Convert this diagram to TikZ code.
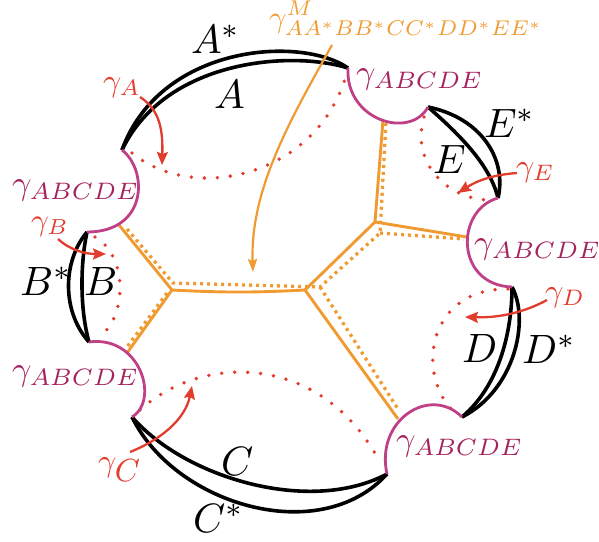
\documentclass[tikz,border=0pt]{standalone}
\usepackage{graphicx}
\usetikzlibrary{arrows.meta}
\definecolor{pline}{RGB}{192,64,136}
\definecolor{ptext}{RGB}{165,35,95}
\definecolor{rcol}{RGB}{226,60,45}
\definecolor{ocol}{RGB}{240,155,50}
\begin{document}
\begin{tikzpicture}[x=1pt,y=-1pt,
  blk/.style={line width=3.6pt,black},
  pur/.style={line width=2.8pt,pline},
  rdot/.style={rcol,line width=3.8pt,line cap=round,dash pattern=on 0pt off 13pt},
  rarr/.style={rcol,line width=2.3pt,-{Stealth[length=13pt,width=11pt,inset=2pt]}},
  oarr/.style={ocol,line width=2.2pt,-{Stealth[length=13pt,width=9pt,inset=2pt]}},
  osol/.style={ocol,line width=2.9pt},
  odot/.style={ocol,line width=3.3pt,dash pattern=on 3pt off 4pt},
  lab/.style={inner sep=0pt,anchor=base west}]
\useasboundingbox (0,0) rectangle (599,541);
% endpoints
\coordinate (a1) at (122,150);
\coordinate (a2) at (348,68);
\coordinate (e1) at (428,107);
\coordinate (e2) at (498,198);
\coordinate (d1) at (512,287);
\coordinate (d2) at (462,417);
\coordinate (c2) at (387,474);
\coordinate (c1) at (132,417);
\coordinate (b2) at (89,342);
\coordinate (b1) at (87,232);
% orange network
\coordinate (L) at (172,290);
\coordinate (R) at (305,290);
\coordinate (T) at (375,222);
\coordinate (oa) at (119,225);
\coordinate (ob) at (127,353);
\coordinate (ot) at (383,120);
\coordinate (oe) at (467,237);
\coordinate (od) at (398,419);
\draw[osol] (L) -- (oa);
\draw[osol] (L) -- (ob);
\draw[osol] (L) to[bend right=3] (R);
\draw[osol] (R) -- (T);
\draw[osol] (T) -- (ot);
\draw[osol] (T) -- (oe);
\draw[osol] (R) -- (od);
\coordinate (Lp) at (173,283);
\coordinate (Rp) at (320,287);
\coordinate (Tp) at (380,233);
\coordinate (qa) at (127,229);
\coordinate (qt) at (386,122);
\coordinate (qe) at (464,239);
\coordinate (qd) at (398,409);
\coordinate (qb1) at (167,293);
\coordinate (qb2) at (127,347);
\draw[odot] (qa) -- (Lp) -- (Rp) -- (Tp) -- (qt);
\draw[odot] (Tp) -- (qe);
\draw[odot] (Rp) -- (qd);
\draw[odot] (qb1) -- (qb2);
% red dotted
\coordinate (ra1) at (132,153); \coordinate (ra2) at (347,72);
\coordinate (re1) at (424,117); \coordinate (re2) at (490,200);
\coordinate (rd1) at (508,289); \coordinate (rd2) at (452,410);
\coordinate (rc1) at (140,410); \coordinate (rc2) at (380,462);
\coordinate (rb1) at (95,237);  \coordinate (rb2) at (97,338);
\draw[rdot] (ra1) .. controls (195,205) and (320,175) .. (ra2);
\draw[rdot] (re1) .. controls (410,165) and (450,200) .. (re2);
\draw[rdot] (rd1) .. controls (430,288) and (415,370) .. (rd2);
\draw[rdot] (rc1) .. controls (200,355) and (320,350) .. (rc2);
\draw[rdot] (rb1) .. controls (128,255) and (128,320) .. (rb2);
% black arcs
\draw[blk] (a1) .. controls (160,45) and (300,35) .. (a2);
\draw[blk] (a1) .. controls (165,60) and (290,50) .. (a2);
\draw[blk] (e1) .. controls (482,118) and (507,160) .. (e2);
\draw[blk] (e1) .. controls (460,135) and (490,165) .. (e2);
\draw[blk] (d1) .. controls (530,320) and (515,390) .. (d2);
\draw[blk] (d1) .. controls (512,330) and (500,385) .. (d2);
\draw[blk] (c1) .. controls (185,478) and (310,515) .. (c2);
\draw[blk] (c1) .. controls (175,505) and (320,548) .. (c2);
\draw[blk] (b1) .. controls (62,262) and (62,312) .. (b2);
\draw[blk] (b1) .. controls (80,265) and (80,310) .. (b2);
% purple arcs
\draw[pur] (a2) .. controls (345,120) and (410,140) .. (e1);
\draw[pur] (a1) .. controls (148,170) and (148,232) .. (b1);
\draw[pur] (b2) .. controls (140,335) and (160,400) .. (c1);
\draw[pur] (c2) .. controls (375,420) and (430,385) .. (d2);
\draw[pur] (e2) .. controls (455,210) and (455,285) .. (d1);
% black labels
\node[lab] (lAs) at (191,53) {\scalebox{4.1}{$A^*$}};
\node[lab] (lA) at (214,108) {\scalebox{4.1}{$A$}};
\node[lab] (lEs) at (484,137) {\scalebox{4.1}{$E^*$}};
\node[lab] (lE) at (433,173) {\scalebox{4.1}{$E$}};
\node[lab] (lBs) at (20,295) {\scalebox{4.1}{$B^*$}};
\node[lab] (lB) at (84,295) {\scalebox{4.1}{$B$}};
\node[lab] (lC) at (221,475) {\scalebox{4.1}{$C$}};
\node[lab] (lCs) at (193,532) {\scalebox{4.1}{$C^*$}};
\node[lab] (lD) at (462,362) {\scalebox{4.1}{$D$}};
\node[lab] (lDs) at (522,363) {\scalebox{4.1}{$D^*$}};
% purple labels
\node[lab,text=ptext] (g1) at (356,83) {\scalebox{3.4}{$\gamma_{ABCDE}$}};
\node[lab,text=ptext] (g2) at (12,194) {\scalebox{3.4}{$\gamma_{ABCDE}$}};
\node[lab,text=ptext] (g3) at (12,380) {\scalebox{3.4}{$\gamma_{ABCDE}$}};
\node[lab,text=ptext] (g4) at (396,450) {\scalebox{3.4}{$\gamma_{ABCDE}$}};
\node[lab,text=ptext] (g5) at (474,253) {\scalebox{3.4}{$\gamma_{ABCDE}$}};
% red labels
\node[lab,text=rcol] (gA) at (103,91) {\scalebox{3.2}{$\gamma_A$}};
\node[lab,text=rcol] (gB) at (31,230) {\scalebox{3.1}{$\gamma_B$}};
\node[lab,text=rcol] (gC) at (98,471) {\scalebox{3.2}{$\gamma_{\textstyle C}$}};
\node[lab,text=rcol] (gE) at (516,176) {\scalebox{3.2}{$\gamma_E$}};
\node[lab,text=rcol] (gD) at (545,301) {\scalebox{3.2}{$\gamma_D$}};
% orange label
\node[lab,text=ocol] (gM) at (269,27) {\scalebox{3.05}{$\gamma^M_{AA^*BB^*CC^*DD^*EE^*}$}};
% arrows
\coordinate (sA) at (140,97);  \coordinate (tA) at (162,165);
\coordinate (sB) at (58,239);  \coordinate (tB) at (106,254);
\coordinate (sC) at (130,452); \coordinate (tC) at (192,386);
\coordinate (sE) at (517,173); \coordinate (tE) at (458,193);
\coordinate (sD) at (547,300); \coordinate (tD) at (465,317);
\coordinate (sM) at (332,45);  \coordinate (tM) at (253,272);
\draw[rarr] (sA) .. controls (160,110) and (163,130) .. (tA);
\draw[rarr] (sB) .. controls (70,250) and (85,254) .. (tB);
\draw[rarr] (sC) .. controls (160,440) and (185,420) .. (tC);
\draw[rarr] (sE) .. controls (490,175) and (475,182) .. (tE);
\draw[rarr] (sD) .. controls (525,312) and (500,318) .. (tD);
\draw[oarr] (sM) .. controls (290,120) and (250,190) .. (tM);
\end{tikzpicture}
\end{document}
